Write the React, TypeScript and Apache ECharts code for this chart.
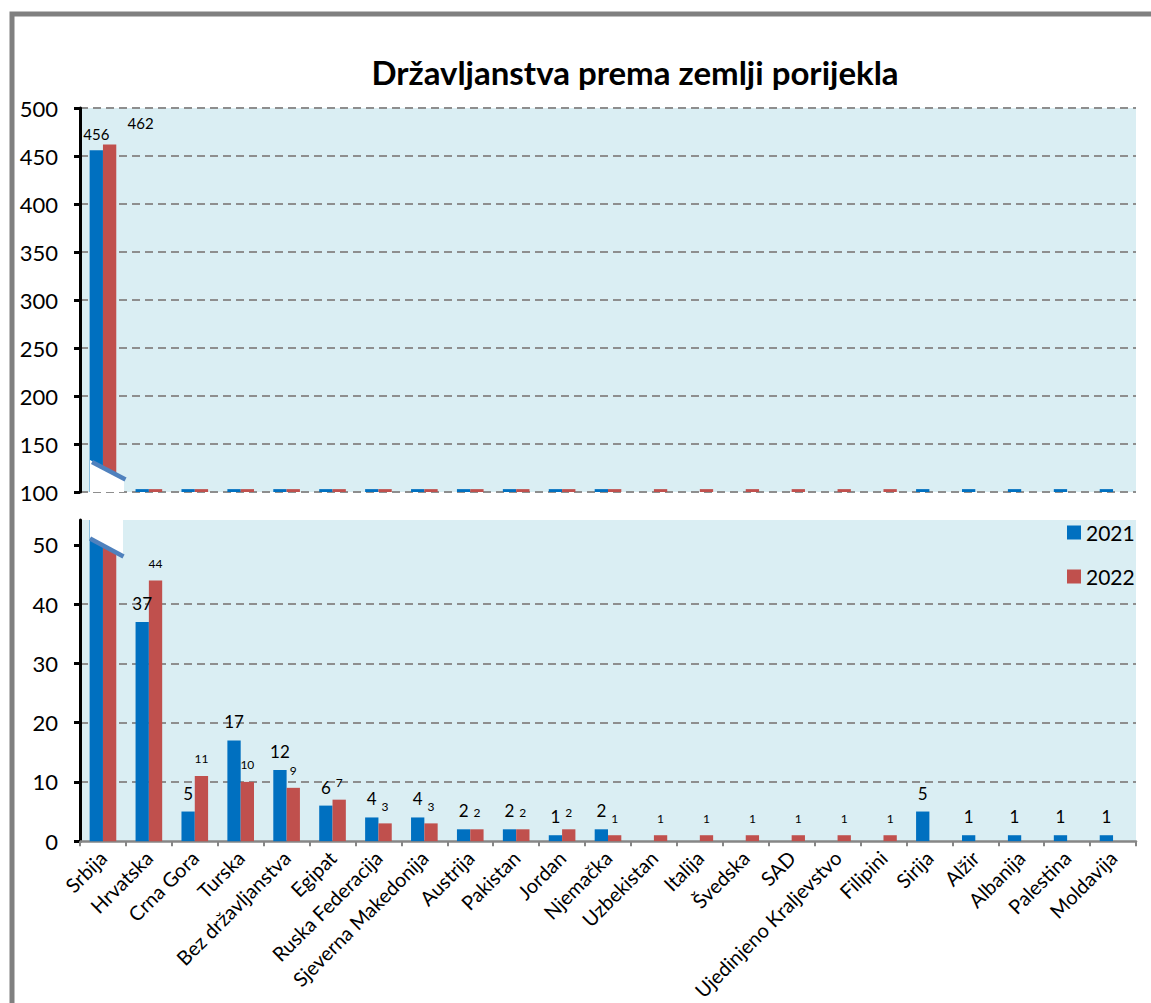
import React, { useEffect, useRef } from "react";
import * as echarts from "echarts";

const categories = [
  "Srbija",
  "Hrvatska",
  "Crna Gora",
  "Turska",
  "Bez državljanstva",
  "Egipat",
  "Ruska Federacija",
  "Sjeverna Makedonija",
  "Austrija",
  "Pakistan",
  "Jordan",
  "Njemačka",
  "Uzbekistan",
  "Italija",
  "Švedska",
  "SAD",
  "Ujedinjeno Kraljevstvo",
  "Filipini",
  "Sirija",
  "Alžir",
  "Albanija",
  "Palestina",
  "Moldavija",
];

const years = ["2021", "2022"];

const values2021: (number | null)[] = [
  456, 37, 5, 17, 12, 6, 4, 4, 2, 2, 1, 2, null, null, null, null, null, null, 5, 1, 1, 1, 1,
];
const values2022: (number | null)[] = [
  462, 44, 11, 10, 9, 7, 3, 3, 2, 2, 2, 1, 1, 1, 1, 1, 1, 1, null, null, null, null, null,
];

// upper (broken) panel scale
const upperMin = 100;
const upperMax = 500;
const upperInterval = 50;
// lower panel scale
const lowerTicks = [0, 10, 20, 30, 40, 50];
const lowerMax = 54.2;

const TITLE = "Državljanstva prema zemlji porijekla";

const FONT = "Lato, 'Open Sans', sans-serif";
const BLUE = "#0070C0";
const RED = "#C0504D";
const PLOT_BG = "#DAEEF3";
const GRID_LINE = "#8E8E8E";
const BREAK_BLUE = "#4F81BD";

// Small stub shown in the upper panel for values that sit below its minimum
const STUB = 3;

export default function App() {
  const ref = useRef<HTMLDivElement>(null);

  useEffect(() => {
    if (!ref.current) return;
    const chart = echarts.init(ref.current, null, { renderer: "svg" });

    const seriesColors = [BLUE, RED];
    const seriesValues = [values2021, values2022];
    const labelSizes = [17, 12];
    const labelDistances = [10, 11];

    const upperSeries = seriesValues.map((vals, s) => ({
      name: years[s],
      type: "bar",
      xAxisIndex: 0,
      yAxisIndex: 0,
      barGap: "0%",
      barCategoryGap: "42%",
      itemStyle: { color: seriesColors[s] },
      data: vals.map((v, i) => {
        if (v == null) return null;
        const shown = v > upperMin ? v : upperMin + STUB;
        if (i === 0) {
          return {
            value: shown,
            label: {
              show: true,
              position: "top",
              distance: s === 0 ? 9 : 5,
              offset: s === 0 ? [0, 0] : [31, -9],
              fontSize: 15,
              color: "#000",
              fontFamily: FONT,
              formatter: String(v),
            },
          };
        }
        return shown;
      }),
    }));

    const lowerSeries = seriesValues.map((vals, s) => ({
      name: years[s],
      type: "bar",
      xAxisIndex: 1,
      yAxisIndex: 1,
      barGap: "0%",
      barCategoryGap: "42%",
      itemStyle: { color: seriesColors[s] },
      data: vals.map((v, i) => {
        if (v == null) return null;
        if (i === 0) return v;
        return {
          value: v,
          label: {
            show: true,
            position: "top",
            distance: labelDistances[s],
            fontSize: labelSizes[s],
            color: "#000",
            fontFamily: FONT,
          },
        };
      }),
    }));

    const yAxisCommon = {
      type: "value",
      axisLine: { show: true, lineStyle: { color: "#000", width: 3 } },
      axisTick: { show: true, length: 6, lineStyle: { color: "#000", width: 3 } },
      axisLabel: { fontSize: 22, color: "#000", margin: 22, fontFamily: FONT },
      splitLine: {
        show: true,
        lineStyle: { color: GRID_LINE, width: 2, type: [8, 5] },
      },
    };

    chart.setOption({
      animation: false,
      backgroundColor: "#ffffff",
      textStyle: { fontFamily: FONT },
      grid: [
        {
          left: 80,
          right: 15,
          top: 108,
          height: 384,
          show: true,
          backgroundColor: PLOT_BG,
          borderWidth: 0,
        },
        {
          left: 80,
          right: 15,
          top: 520,
          height: 324,
          show: true,
          backgroundColor: PLOT_BG,
          borderWidth: 0,
        },
      ],
      xAxis: [
        { gridIndex: 0, type: "category", data: categories, show: false },
        {
          gridIndex: 1,
          type: "category",
          data: categories,
          axisLine: { show: true, lineStyle: { color: "#868686", width: 2.5 } },
          axisTick: { show: true, length: 5, lineStyle: { color: "#868686", width: 2 } },
          axisLabel: {
            rotate: 45,
            interval: 0,
            fontSize: 20,
            color: "#000",
            margin: 13,
            fontFamily: FONT,
          },
        },
      ],
      yAxis: [
        {
          ...yAxisCommon,
          gridIndex: 0,
          min: upperMin,
          max: upperMax,
          interval: upperInterval,
        },
        {
          ...yAxisCommon,
          gridIndex: 1,
          min: 0,
          max: lowerMax,
          interval: 10,
          axisTick: { ...yAxisCommon.axisTick, customValues: lowerTicks },
          axisLabel: { ...yAxisCommon.axisLabel, customValues: lowerTicks },
          splitLine: { ...yAxisCommon.splitLine, showMinLine: false, showMaxLine: false },
        },
      ],
      legend: {
        data: years,
        orient: "vertical",
        left: 1062,
        top: 517,
        itemWidth: 14,
        itemHeight: 14,
        itemGap: 23,
        icon: "rect",
        textStyle: { fontSize: 21, color: "#000", fontFamily: FONT },
      },
      series: [...upperSeries, ...lowerSeries],
      graphic: [
        {
          type: "rect",
          z: 0,
          silent: true,
          shape: { x: 12, y: 14, width: 1400, height: 1200 },
          style: { fill: "none", stroke: "#808080", lineWidth: 5 },
        },
        {
          type: "text",
          z: 50,
          x: 635,
          y: 72,
          style: {
            text: TITLE,
            fontSize: 33,
            fontWeight: "bold",
            fontFamily: FONT,
            fill: "#000",
            align: "center",
            verticalAlign: "middle",
          },
        },
        // axis break, upper panel
        {
          type: "polygon",
          z: 100,
          silent: true,
          shape: {
            points: [
              [90, 460],
              [124, 478],
              [124, 492],
              [90, 492],
            ],
          },
          style: { fill: "#ffffff" },
        },
        {
          type: "line",
          z: 101,
          silent: true,
          shape: { x1: 92, y1: 462, x2: 125.5, y2: 479.5 },
          style: { stroke: BREAK_BLUE, lineWidth: 4.5 },
        },
        // axis break, lower panel
        {
          type: "polygon",
          z: 100,
          silent: true,
          shape: {
            points: [
              [90, 520],
              [123, 520],
              [123, 556],
              [90, 538],
            ],
          },
          style: { fill: "#ffffff" },
        },
        {
          type: "line",
          z: 101,
          silent: true,
          shape: { x1: 90, y1: 538.5, x2: 123.5, y2: 556.5 },
          style: { stroke: BREAK_BLUE, lineWidth: 4.5 },
        },
      ],
    });

    return () => chart.dispose();
  }, []);

  return (
    <div
      ref={ref}
      style={{ position: "absolute", left: 0, top: 0, width: 1151, height: 1003 }}
    />
  );
}
